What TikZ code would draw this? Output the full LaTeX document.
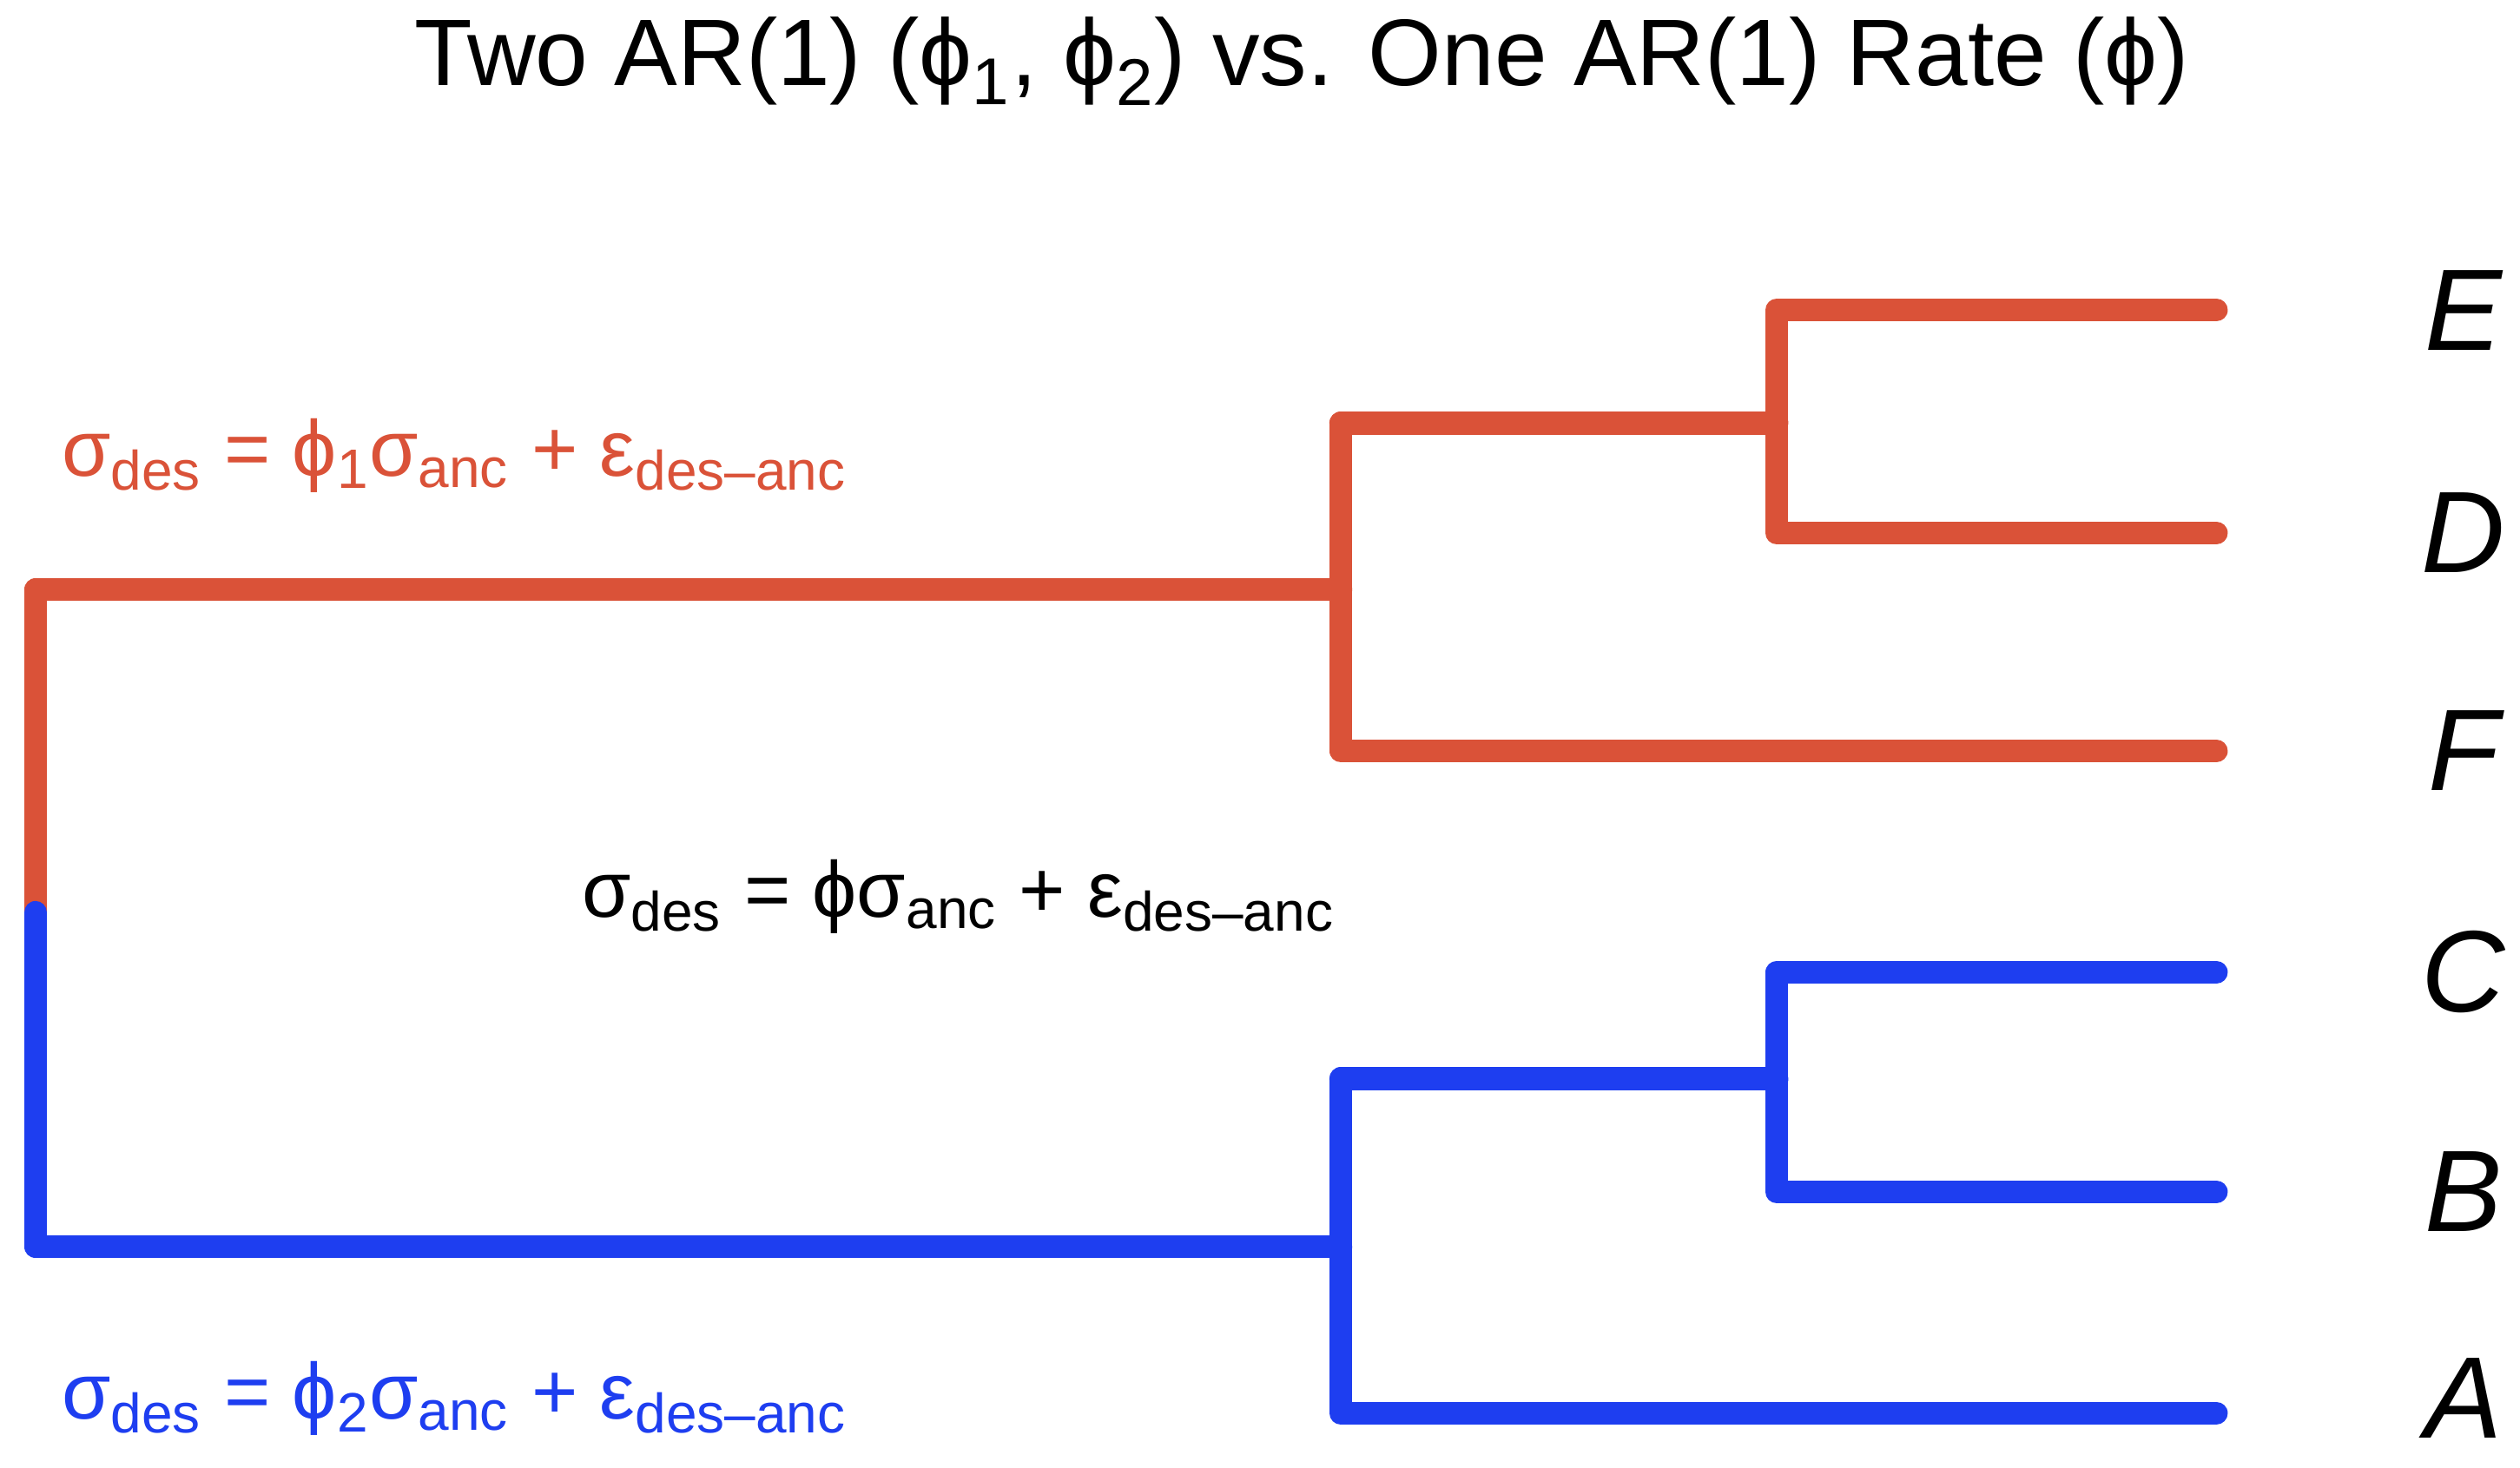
\documentclass[tikz,border=0pt]{standalone}
\usepackage{fontspec}
\setmainfont{Liberation Sans}
\usetikzlibrary{positioning}
\definecolor{treered}{RGB}{218,82,56}
\definecolor{treeblue}{RGB}{30,62,240}
\tikzset{
  branch/.style={line width=7.5pt, line cap=round, line join=round},
  tip/.style={font=\fontsize{38}{44}\selectfont\itshape, anchor=center},
  eqn/.style={font=\fontsize{26}{30}\selectfont, anchor=west, inner sep=0pt},
}
\begin{document}
\begin{tikzpicture}[x=0.0186cm, y=-0.0186cm]
\useasboundingbox (0,0) rectangle (1560,909);

\node[font=\fontsize{31}{38}\selectfont] (title) at (806,38) {Two AR(1) (ϕ\textsubscript{1}, ϕ\textsubscript{2}) vs. One AR(1) Rate (ϕ)};

% junctions
\coordinate (root) at (22,565);
\coordinate (rtop) at (22,365);
\coordinate (rbot) at (22,772);
\coordinate (red1) at (830,365);
\coordinate (red1t) at (830,262);
\coordinate (red1b) at (830,465);
\coordinate (red2) at (1100,262);
\coordinate (red2t) at (1100,192);
\coordinate (red2b) at (1100,330);
\coordinate (blu1) at (830,772);
\coordinate (blu1t) at (830,668);
\coordinate (blu1b) at (830,875);
\coordinate (blu2) at (1100,668);
\coordinate (blu2t) at (1100,602);
\coordinate (blu2b) at (1100,738);

% tips
\coordinate (E) at (1372,192);
\coordinate (D) at (1372,330);
\coordinate (F) at (1372,465);
\coordinate (C) at (1372,602);
\coordinate (B) at (1372,738);
\coordinate (A) at (1372,875);
\foreach \t/\y in {E/192, D/330, F/465, C/602, B/738, A/866}
  \node[tip] (lab\t) at (1525,\y) {\t};

% red clade
\draw[branch, treered] (root) -- (rtop) -- (red1);
\draw[branch, treered] (red1t) -- (red1b) -- (F);
\draw[branch, treered] (red1t) -- (red2);
\draw[branch, treered] (E) -- (red2t) -- (red2b) -- (D);

% blue clade
\draw[branch, treeblue] (root) -- (rbot) -- (blu1);
\draw[branch, treeblue] (blu1t) -- (blu1b) -- (A);
\draw[branch, treeblue] (blu1t) -- (blu2);
\draw[branch, treeblue] (C) -- (blu2t) -- (blu2b) -- (B);

% equations
\node[eqn, treered] (eqred) at (38,282) {σ\textsubscript{des} = ϕ\textsubscript{1}σ\textsubscript{anc} + ε\textsubscript{des–anc}};
\node[eqn] (eqone) at (360,555) {σ\textsubscript{des} = ϕσ\textsubscript{anc} + ε\textsubscript{des–anc}};
\node[eqn, treeblue] (eqblue) at (38,866) {σ\textsubscript{des} = ϕ\textsubscript{2}σ\textsubscript{anc} + ε\textsubscript{des–anc}};
\end{tikzpicture}
\end{document}
